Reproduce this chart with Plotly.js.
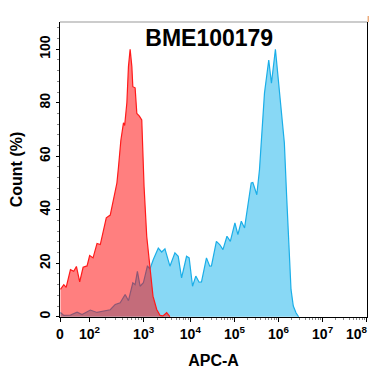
<!DOCTYPE html>
<html>
<head>
<meta charset="utf-8">
<script src="https://cdn.plot.ly/plotly-3.0.1.min.js"></script>
<style>html,body{margin:0;padding:0;background:#fff;}#chart{width:377px;height:378px;}</style>
</head>
<body>
<div id="chart"></div>
<script>
// Display position on the biexponential APC-A axis (decade units: 4 = 10^4 ... 8 = 10^8)
const redX = [1.054,1.129,1.183,1.280,1.354,1.415,1.490,1.567,1.657,1.716,1.793,1.883,1.957,2.032,2.093,2.183,2.257,2.334,2.370,2.424,2.483,2.510,2.560,2.596,2.634,2.673,2.695,2.747,2.786,2.844,2.898,2.950,3.011,3.086,3.153,3.237,3.312,3.379,3.463,3.537];
const redY = [10.2,12,11,17.6,17,18.8,13,18.5,19,22.9,22,27.4,27,32,37,38,43.8,50,56,66,72.5,71.5,80,93.5,100,93.5,86,85.6,76,75,73.6,48.7,30,17.6,7.7,2.7,0.5,0.3,1.5,0];
const blueX = [1.054,1.129,1.280,1.431,1.544,1.731,1.883,2.032,2.183,2.296,2.409,2.521,2.596,2.695,2.747,2.799,2.860,2.935,3.025,3.086,3.160,3.273,3.350,3.424,3.537,3.650,3.725,3.801,3.914,3.973,4.050,4.124,4.199,4.253,4.366,4.440,4.479,4.591,4.666,4.740,4.831,4.907,5.011,5.079,5.156,5.230,5.305,5.381,5.418,5.508,5.569,5.630,5.682,5.779,5.840,5.930,5.991,6.065,6.133,6.185,6.230,6.284,6.336,6.397,6.456];
const blueY = [1.6,0.5,0.6,1.7,0.8,2.5,1.6,2,2.6,4.6,5.2,8.3,6,12.7,12,17,11.4,12.7,18.9,18,21.4,25.7,24.2,25.4,18.9,23.9,22.6,14.5,22.6,22,11.4,15.2,12.9,13,22,18.9,19,28.2,27,25.1,30.1,28.2,35.1,30.7,35.7,33.2,41.3,50,50.2,45.6,55,72.4,83.6,96,87.3,100,89.8,76,65,45,26.3,10.2,4,1.5,0];
const xTickVals = [1.043,1.71,2.94,4,5,6,7,8];
const xTickText = ['0','10<sup>2</sup>','10<sup>3</sup>','10<sup>4</sup>','10<sup>5</sup>','10<sup>6</sup>','10<sup>7</sup>','10<sup>8</sup>'];
const yTickVals = [0,20,40,60,80,100];

// minor ticks between decade labels
const minorX = [];
for (let i = 1; i < xTickVals.length - 1; i++) {
  const a = xTickVals[i], b = xTickVals[i+1];
  for (let k = 2; k <= 9; k++) minorX.push(a + (b - a) * Math.log10(k));
}

const font = {family: '"Liberation Sans", Arial, sans-serif', color: '#000'};
const tickFont = Object.assign({size: 14}, font, {weight: 'bold'});

// the last decade label sits at the plot's right edge: drawn right-aligned to stay inside the page
const lastIdx = xTickVals.length - 1;
const axisText = xTickText.map((t, i) => i === lastIdx ? '' : t);

const traces = [
  {x: blueX, y: blueY, type: 'scatter', mode: 'lines', fill: 'tozeroy',
   line: {color: '#1aaee8', width: 1.2}, fillcolor: 'rgb(136,216,245)', hoverinfo: 'skip'},
  {x: redX, y: redY, type: 'scatter', mode: 'lines', fill: 'tozeroy',
   line: {color: '#ff1a1a', width: 1.2}, fillcolor: 'rgba(255,0,0,0.5)', hoverinfo: 'skip'}
];

const layout = {
  width: 377, height: 378,
  margin: {l: 59.5, r: 10, t: 22, b: 61},
  paper_bgcolor: '#fff', plot_bgcolor: '#fff',
  showlegend: false,
  font: Object.assign({size: 14}, font),
  title: {text: '<b>BME100179</b>', font: Object.assign({size: 23}, font),
          x: 0.486, xref: 'paper', xanchor: 'center', y: 0.9, yref: 'container', yanchor: 'middle'},
  xaxis: {
    range: [1.043, 8.008], showgrid: false, zeroline: false,
    showline: true, linecolor: '#000', linewidth: 1, mirror: false,
    tickmode: 'array', tickvals: xTickVals, ticktext: axisText,
    ticks: 'outside', ticklen: 4, tickcolor: '#000', tickwidth: 1,
    tickfont: tickFont,
    minor: {tickmode: 'array', tickvals: minorX, ticks: 'outside', ticklen: 2, tickcolor: '#888', tickwidth: 1},
    title: {text: '<b>APC-A</b>', font: Object.assign({size: 16}, font), standoff: 14}
  },
  yaxis: {
    range: [-0.1, 110.2], showgrid: false, zeroline: false,
    showline: true, linecolor: '#000', linewidth: 1, mirror: true,
    tickmode: 'array', tickvals: yTickVals,
    ticks: 'outside', ticklen: 3, tickcolor: '#000', tickwidth: 1, tickangle: -90,
    tickfont: tickFont,
    minor: {dtick: 4, ticks: 'outside', ticklen: 2, tickcolor: '#888', tickwidth: 1},
    title: {text: '<b>Count (%)</b>', font: Object.assign({size: 16}, font), standoff: 10}
  },
  annotations: [
    {x: xTickVals[lastIdx], xref: 'x', y: 0, yref: 'paper', text: xTickText[lastIdx],
     showarrow: false, xanchor: 'right', yanchor: 'top', xshift: 3, yshift: -5, font: tickFont}
  ],
  shapes: [
    {type: 'line', xref: 'paper', yref: 'paper', x0: 0, x1: 1, y0: 1, y1: 1, line: {color: '#999', width: 1.2}},
    {type: 'line', xref: 'paper', yref: 'paper', x0: 1.004, x1: 1.004, y0: 1.0, y1: 1.02, line: {color: '#e89a60', width: 1.2}}
  ]
};

Plotly.newPlot('chart', traces, layout, {staticPlot: true, displayModeBar: false});
</script>
</body>
</html>
